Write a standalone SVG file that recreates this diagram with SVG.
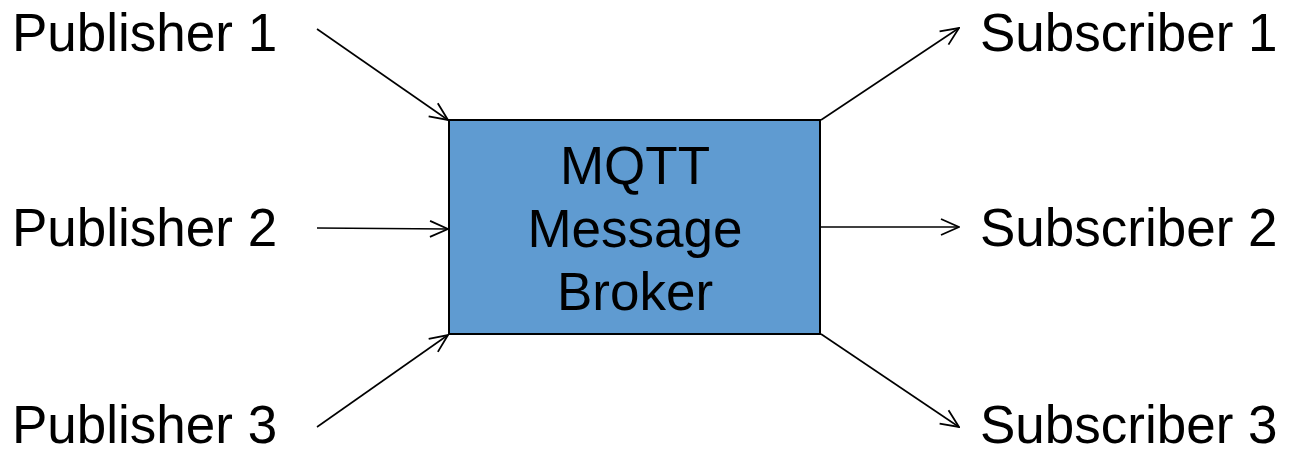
<svg xmlns="http://www.w3.org/2000/svg" width="1289" height="452" viewBox="0 0 1289 452">
<style>
text{font-family:"Liberation Sans",Arial,sans-serif;font-size:53px;fill:#000}
.c{text-anchor:middle}
.e{stroke:#000;stroke-width:1.6;fill:none;marker-end:url(#ah)}
</style>
<defs>
<marker id="ah" viewBox="0 0 20 20" refX="19" refY="10" markerWidth="20" markerHeight="20" markerUnits="userSpaceOnUse" orient="auto">
<path d="M1,2 L19,10 L1,18" fill="none" stroke="#000" stroke-width="1.8"/>
</marker>
</defs>
<g id="connectors">
<line class="e" x1="317" y1="29" x2="448" y2="120"/>
<line class="e" x1="317" y1="228" x2="448" y2="229"/>
<line class="e" x1="317" y1="427" x2="448" y2="335"/>
<line class="e" x1="821" y1="120" x2="959" y2="28"/>
<line class="e" x1="821" y1="227" x2="959" y2="227"/>
<line class="e" x1="821" y1="334" x2="959" y2="427"/>
</g>
<g id="broker">
<rect x="449" y="120" width="371" height="214" fill="#5f9bd1" stroke="#000" stroke-width="2"/>
<text class="c" x="635" y="184">MQTT</text>
<text class="c" x="635" y="247">Message</text>
<text class="c" x="635" y="310">Broker</text>
</g>
<g id="pub1"><text x="12" y="51">Publisher 1</text></g>
<g id="pub2"><text x="12" y="246">Publisher 2</text></g>
<g id="pub3"><text x="12" y="443">Publisher 3</text></g>
<g id="sub1"><text x="980" y="51">Subscriber 1</text></g>
<g id="sub2"><text x="980" y="246">Subscriber 2</text></g>
<g id="sub3"><text x="980" y="443">Subscriber 3</text></g>
</svg>
